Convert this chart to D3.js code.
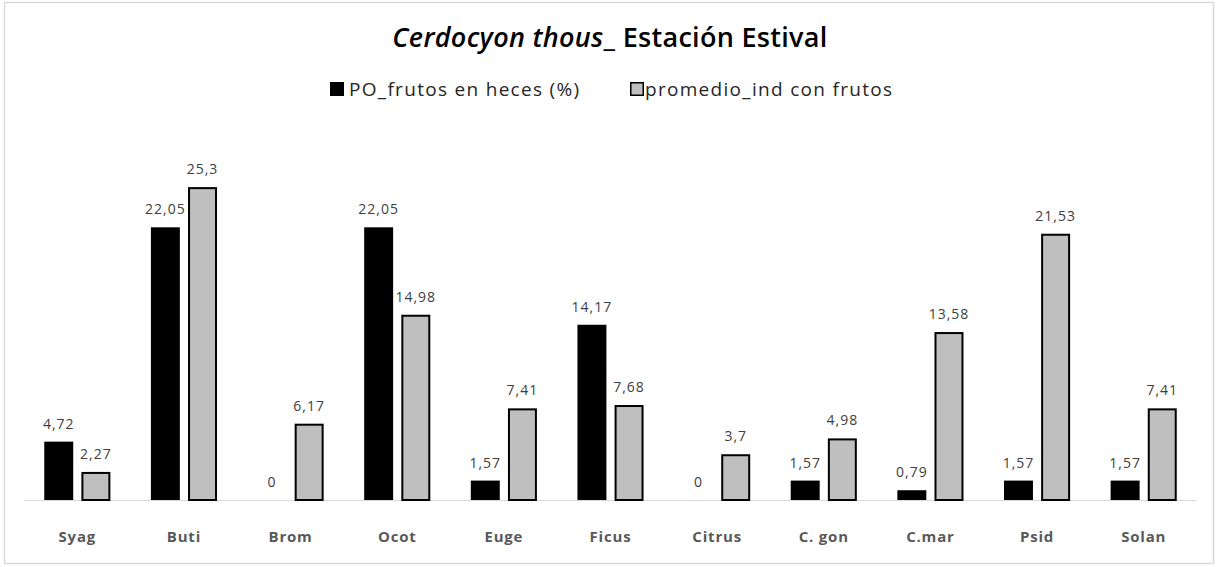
<!DOCTYPE html>
<html>
<head>
<meta charset="utf-8">
<script src="https://cdn.jsdelivr.net/npm/d3@7"></script>
<style>
  body { margin: 0; background: #fff; }
  text { font-family: "Open Sans", "Noto Sans", sans-serif; }
</style>
</head>
<body>
<script>
var categories = ["Syag", "Buti", "Brom", "Ocot", "Euge", "Ficus", "Citrus", "C. gon", "C.mar", "Psid", "Solan"];
var seriesNames = ["PO_frutos en heces (%)", "promedio_ind con frutos"];
var poFrutos = [4.72, 22.05, 0, 22.05, 1.57, 14.17, 0, 1.57, 0.79, 1.57, 1.57];
var promedioInd = [2.27, 25.3, 6.17, 14.98, 7.41, 7.68, 3.7, 4.98, 13.58, 21.53, 7.41];

var width = 1217, height = 567;

var svg = d3.select("body").append("svg")
    .attr("width", width)
    .attr("height", height);

// chart frame
svg.append("rect")
    .attr("x", 4.5).attr("y", 2.5)
    .attr("width", 1209).attr("height", 561)
    .attr("fill", "#fff")
    .attr("stroke", "#d9d9d9")
    .attr("stroke-width", 1.5);

var x0 = d3.scaleBand()
    .domain(categories)
    .range([24, 1197])
    .paddingInner(0.38)
    .paddingOuter(0.19);

var x1 = d3.scaleBand()
    .domain([0, 1])
    .range([0, x0.bandwidth()])
    .paddingInner(0.22);

var y = d3.scaleLinear()
    .domain([0, 30])
    .range([500, 129]);

var rows = categories.map(function(c, i) {
    return { cat: c, vals: [poFrutos[i], promedioInd[i]] };
});

// baseline
svg.append("line")
    .attr("x1", 24).attr("x2", 1197)
    .attr("y1", y(0) + 0.5).attr("y2", y(0) + 0.5)
    .attr("stroke", "#d9d9d9")
    .attr("stroke-width", 1);

var fmt = function(v) { return String(v).replace(".", ","); };

var group = svg.append("g")
    .selectAll("g")
    .data(rows)
    .enter().append("g")
    .attr("transform", function(d) { return "translate(" + x0(d.cat) + ",0)"; });

group.selectAll("rect")
    .data(function(d) { return d.vals.map(function(v, k) { return { k: k, v: v }; }); })
    .enter().append("rect")
    .filter(function(d) { return d.v > 0; })
    .attr("x", function(d) { return x1(d.k) + (d.k == 1 ? 1 : 0); })
    .attr("y", function(d) { return y(d.v) + (d.k == 1 ? 1 : 0); })
    .attr("width", function(d) { return x1.bandwidth() - (d.k == 1 ? 2 : 0); })
    .attr("height", function(d) { return y(0) - y(d.v) - (d.k == 1 ? 1 : 0); })
    .attr("fill", function(d) { return d.k == 0 ? "#000" : "#bfbfbf"; })
    .attr("stroke", function(d) { return d.k == 1 ? "#000" : "none"; })
    .attr("stroke-width", 2);

group.selectAll("text.val")
    .data(function(d) { return d.vals.map(function(v, k) { return { k: k, v: v }; }); })
    .enter().append("text")
    .attr("class", "val")
    .attr("x", function(d) { return x1(d.k) + x1.bandwidth() / 2; })
    .attr("y", function(d) { return y(d.v) - 13; })
    .attr("text-anchor", "middle")
    .attr("font-size", "14px")
    .attr("letter-spacing", "1px")
    .attr("fill", "#404040")
    .text(function(d) { return fmt(d.v); });

// category labels
svg.append("g")
    .selectAll("text")
    .data(categories)
    .enter().append("text")
    .attr("x", function(d) { return x0(d) + x0.bandwidth() / 2; })
    .attr("y", 542)
    .attr("text-anchor", "middle")
    .attr("font-size", "15px")
    .attr("letter-spacing", "0.8px")
    .attr("font-weight", "bold")
    .attr("fill", "#595959")
    .text(function(d) { return d; });

// title
var title = svg.append("text")
    .attr("x", 610)
    .attr("y", 47)
    .attr("text-anchor", "middle")
    .attr("font-size", "27px")
    .attr("font-weight", "600")
    .attr("letter-spacing", "0.3px")
    .attr("fill", "#000");
title.append("tspan").attr("font-style", "italic").text("Cerdocyon thous");
title.append("tspan").text("_ Estación Estival");

// legend
var legendX = [330, 630];
var legend = svg.append("g")
    .selectAll("g")
    .data(seriesNames)
    .enter().append("g")
    .attr("transform", function(d, i) { return "translate(" + legendX[i] + ",82)"; });

legend.append("rect")
    .attr("x", function(d, i) { return i == 1 ? 0.75 : 0; })
    .attr("y", function(d, i) { return i == 1 ? 0.75 : 0; })
    .attr("width", function(d, i) { return i == 1 ? 12.5 : 14; })
    .attr("height", function(d, i) { return i == 1 ? 12.5 : 14; })
    .attr("fill", function(d, i) { return i == 0 ? "#000" : "#bfbfbf"; })
    .attr("stroke", function(d, i) { return i == 1 ? "#000" : "none"; })
    .attr("stroke-width", 1.5);

legend.append("text")
    .attr("x", function(d, i) { return i == 0 ? 19 : 15; })
    .attr("y", 14)
    .attr("font-size", "19px")
    .attr("letter-spacing", "1.3px")
    .attr("fill", "#262626")
    .text(function(d) { return d; });
</script>
</body>
</html>
